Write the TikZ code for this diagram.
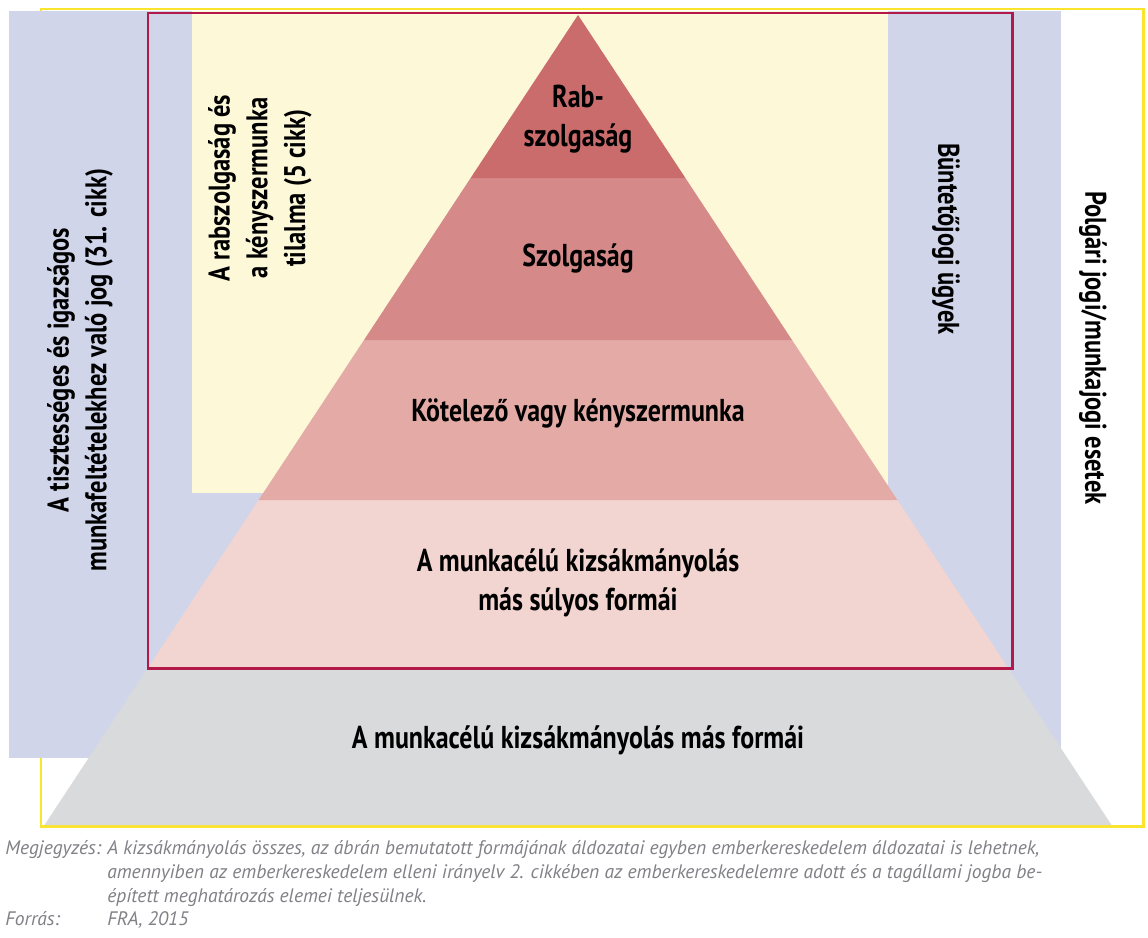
\documentclass[tikz,border=0pt]{standalone}
\usepackage{fontspec}
\setmainfont{PT Sans}[FakeStretch=0.82]
\newfontfamily\notefont{PT Sans}
\usepackage{xcolor}
\usepackage{tikz}
\usetikzlibrary{positioning}

\definecolor{sideblue}{RGB}{208,213,234}
\definecolor{paleyellow}{RGB}{253,248,216}
\definecolor{brightyellow}{RGB}{250,228,45}
\definecolor{framered}{RGB}{178,24,72}
\definecolor{tierone}{RGB}{203,108,108}
\definecolor{tiertwo}{RGB}{213,138,137}
\definecolor{tierthree}{RGB}{228,171,166}
\definecolor{tierfour}{RGB}{242,212,208}
\definecolor{tierbase}{RGB}{217,218,219}
\definecolor{notegray}{RGB}{128,128,134}

\begin{document}
\begin{tikzpicture}[
    x=0.02cm, y=-0.02cm,
    % Pyramid labels
    tierlabel/.style={font=\fontsize{18}{22.5}\selectfont\bfseries, align=center, inner sep=0pt},
    % Rotated side labels
    sidelabel/.style={font=\fontsize{17}{21.5}\selectfont\bfseries, align=center, inner sep=0pt},
    % Footnote lines
    note/.style={font=\notefont\fontsize{11.1}{14}\selectfont\itshape, text=notegray, inner sep=0pt, anchor=base west}
]
    % Canvas
    \fill[white] (0,0) rectangle (1148,937);
    \useasboundingbox (0,0) rectangle (1148,937);

    % Outer frame (civil / labour law)
    \draw[brightyellow, line width=1.7pt, fill=white] (41,9) rectangle (1143,826);

    % Side bands
    \fill[sideblue] (9,11) rectangle (1061,758);
    \fill[paleyellow] (192,11) rectangle (888,493);

    % Pyramid tiers
    \fill[tierbase] (147.9,668) -- (1008.1,668) -- (1111.5,825) -- (44.5,825) -- cycle;
    \fill[tierfour] (258.6,500) -- (897.4,500) -- (1008.1,668) -- (147.9,668) -- cycle;
    \fill[tierthree] (364,340) -- (792,340) -- (897.4,500) -- (258.6,500) -- cycle;
    \fill[tiertwo] (470.6,178) -- (685.4,178) -- (792,340) -- (364,340) -- cycle;
    \fill[tierone] (578,15) -- (685.4,178) -- (470.6,178) -- cycle;

    % Criminal law frame
    \draw[framered, line width=1.7pt] (148,13) rectangle (1012,668);

    % Tier labels
    \node[tierlabel] (slavery) at (578,119) {Rab-\\szolgaság};
    \node[tierlabel] (servitude) at (578,258) {Szolgaság};
    \node[tierlabel] (forced) at (578,413) {Kötelező vagy kényszermunka};
    \node[tierlabel] (severe) at (578,583) {A munkacélú kizsákmányolás\\más súlyos formái};
    \node[tierlabel] (other) at (578,740) {A munkacélú kizsákmányolás más formái};

    % Side labels
    \node[sidelabel, rotate=90] (fairwork) at (80,370) {A tisztességes és igazságos\\munkafeltételekhez való jog (31. cikk)};
    \node[sidelabel, rotate=90] (prohibition) at (260,188) {A rabszolgaság és\\a kényszermunka\\tilalma (5 cikk)};
    \node[sidelabel, rotate=-90] (criminal) at (946,239) {Büntetőjogi ügyek};
    \node[sidelabel, rotate=-90] (civil) at (1093,348) {Polgári jogi/munkajogi esetek};

    % Note and source
    \node[note] (notehead) at (5,854) {Megjegyzés:};
    \node[note] (noteone) at (107,854) {A kizsákmányolás összes, az ábrán bemutatott formájának áldozatai egyben emberkereskedelem áldozatai is lehetnek,};
    \node[note] (notetwo) at (107,878) {amennyiben az emberkereskedelem elleni irányelv 2. cikkében az emberkereskedelemre adott és a tagállami jogba be-};
    \node[note] (notethree) at (107,902) {épített meghatározás elemei teljesülnek.};
    \node[note] (sourcehead) at (5,925) {Forrás:};
    \node[note] (source) at (107,925) {FRA, 2015};
\end{tikzpicture}
\end{document}
